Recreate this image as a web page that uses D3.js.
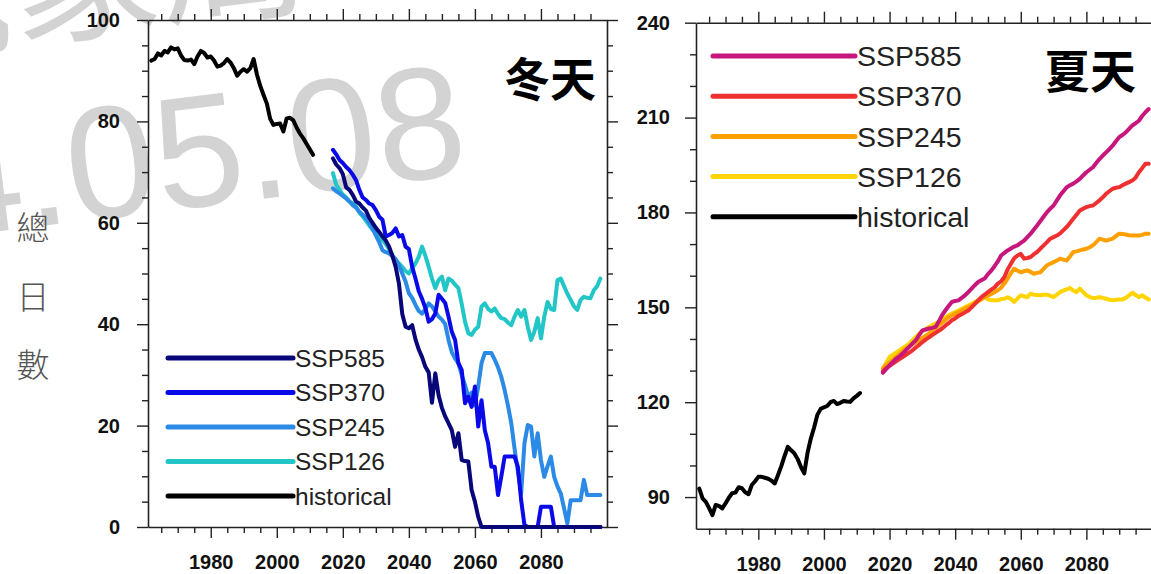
<!DOCTYPE html>
<html lang="zh-Hant">
<head>
    <meta charset="UTF-8">
    <title>冬天 / 夏天 總日數</title>
    <style>
        body { margin: 0; background: #fff; }
        svg { display: block; }
    </style>
</head>
<body>
    <script src="https://d3js.org/d3.v7.min.js"></script>
    <script>
        // Years
        let histYears = d3.range(1962, 2012);
        let winterYears = d3.range(2017, 2099);
        let summerYears = d3.range(2018, 2100);

        // Winter (冬天) series
        let winterHist = [92.0, 92.3, 93.4, 93.0, 93.9, 93.6, 94.6, 94.2, 94.4, 93.0,
            92.1, 92.0, 92.2, 91.3, 92.8, 93.9, 93.5, 92.6, 92.8, 92.0,
            90.8, 91.0, 91.5, 92.3, 91.6, 90.5, 89.0, 89.8, 90.3, 89.8,
            90.5, 92.3, 89.2, 87.0, 85.2, 83.5, 80.5, 79.3, 79.5, 79.6,
            78.0, 80.6, 80.7, 80.2, 78.8, 77.6, 76.7, 75.6, 74.5, 73.4];
        let winter585 = [72.7, 71.5, 70.8, 69.6, 67.0, 66.5, 65.5, 64.2, 63.8, 63.0,
            62.4, 61.0, 60.0, 59.0, 58.2, 57.3, 56.5, 55.3, 53.5, 51.3,
            48.0, 42.0, 39.5, 39.2, 39.8, 37.0, 35.0, 33.5, 31.6, 30.5,
            24.5, 30.3, 26.0, 23.5, 21.8, 20.5, 19.1, 15.8, 18.5, 13.2,
            13.0, 12.9, 7.3, 5.0, 2.0, 0, 0, 0, 0, 0,
            0, 0, 0, 0, 0, 0, 0, 0, 0, 0,
            0, 0, 0, 0, 0, 0, 0, 0, 0, 0,
            0, 0, 0, 0, 0, 0, 0, 0, 0, 0,
            0, 0];
        let winter370 = [74.4, 73.5, 72.4, 71.8, 71.0, 70.4, 69.5, 68.4, 66.5, 65.0,
            64.5, 63.8, 63.5, 62.5, 61.2, 60.6, 57.3, 57.6, 58.0, 58.9,
            57.3, 57.6, 55.3, 54.8, 51.3, 49.0, 46.5, 45.0, 43.2, 40.5,
            41.0, 42.1, 45.8, 45.0, 44.2, 41.5, 38.5, 36.9, 32.3, 31.0,
            24.4, 25.7, 23.7, 27.7, 19.8, 25.0, 19.1, 16.5, 11.9, 11.9,
            6.3, 10.0, 13.9, 13.9, 13.9, 13.9, 11.9, 5.3, 0.4, 0,
            0, 0, 0, 4, 4, 4, 4, 0, 0, 0,
            0, 0, 0, 0, 0, 0, 0, 0, 0, 0,
            0, 0];
        let winter245 = [66.8, 66.2, 65.8, 65.3, 64.8, 64.2, 63.5, 63.0, 62.2, 61.6,
            60.9, 60.0, 58.9, 57.5, 56.2, 54.6, 54.2, 54.0, 53.4, 52.8,
            51.6, 50.0, 48.4, 46.1, 45.2, 43.8, 42.6, 42.1, 43.0, 44.1,
            43.5, 42.5, 41.5, 40.9, 40.0, 36.9, 34.5, 33.2, 32.3, 30.0,
            28.0, 25.7, 26.5, 24.0, 27.7, 32.3, 34.3, 34.3, 34.3, 33.0,
            31.5, 29.6, 27.0, 24.0, 20.5, 15.5, 11.0, 6.6, 16.5, 20.1,
            19.8, 13.9, 18.5, 13.2, 9.9, 12.0, 13.9, 9.9, 8.0, 6.6,
            3.7, 0.7, 5.3, 5.3, 5.3, 5.3, 9.3, 6.3, 6.3, 6.3,
            6.3, 6.3];
        let winter126 = [69.8, 67.5, 66.5, 65.5, 65.0, 64.2, 63.8, 63.2, 62.0, 61.3,
            60.4, 59.5, 58.6, 58.0, 57.3, 56.6, 55.8, 54.8, 53.6, 52.7,
            52.0, 51.3, 50.5, 50.0, 51.0, 52.0, 53.3, 55.3, 53.5, 51.3,
            49.0, 47.1, 48.7, 49.4, 46.7, 49.0, 48.6, 47.8, 47.1, 44.0,
            40.5, 38.2, 37.9, 38.9, 39.5, 43.5, 44.1, 43.0, 42.5, 43.1,
            42.0, 41.2, 41.0, 40.3, 39.8, 41.5, 42.8, 41.5, 42.8, 39.5,
            36.9, 38.5, 41.2, 37.2, 41.5, 44.4, 43.0, 42.8, 48.7, 49.0,
            47.5, 46.0, 44.8, 43.5, 42.8, 44.8, 45.4, 45.2, 45.1, 46.7,
            47.5, 49.0];

        // Summer (夏天) series
        let summerHist = [92.7, 89.6, 88.5, 86.5, 84.3, 87.5, 87.2, 86.4, 88.0, 89.8,
            91.2, 91.4, 93.1, 92.8, 91.5, 90.9, 93.8, 95.0, 96.4, 96.4,
            96.1, 95.8, 95.2, 94.3, 97.0, 99.8, 103.0, 105.9, 104.8, 103.8,
            102.0, 99.5, 97.5, 104.0, 108.5, 112.0, 116.0, 117.9, 118.4, 118.8,
            120.0, 120.4, 119.4, 119.8, 120.4, 120.2, 120.1, 121.2, 122.0, 122.9];
        let summer585 = [129.3, 130.5, 131.7, 132.7, 133.8, 134.5, 135.4, 136.5, 137.5, 138.6,
            139.6, 141.2, 142.7, 143.0, 143.3, 143.5, 143.8, 145.5, 147.5, 149.0,
            150.4, 151.7, 152.0, 152.2, 153.0, 153.8, 154.8, 155.9, 157.0, 158.0,
            158.6, 159.1, 160.5, 161.6, 163.0, 164.5, 166.4, 167.2, 168.0, 168.6,
            169.2, 169.6, 170.4, 171.1, 172.2, 173.3, 174.6, 175.9, 177.3, 178.7,
            180.1, 181.2, 182.2, 183.8, 185.4, 186.7, 188.0, 188.6, 189.1, 189.8,
            190.6, 191.7, 192.7, 193.5, 194.3, 195.6, 196.9, 198.0, 199.0, 200.0,
            201.1, 202.5, 203.8, 204.5, 205.3, 206.4, 207.5, 208.2, 209.0, 210.5,
            211.7, 212.7];
        let summer370 = [129.8, 130.8, 131.5, 132.2, 132.9, 133.6, 134.3, 135.0, 135.7, 136.4,
            137.3, 138.1, 139.0, 139.8, 140.5, 141.2, 141.9, 142.6, 143.3, 144.2,
            145.0, 145.9, 146.5, 147.3, 147.8, 148.4, 149.0, 150.0, 151.1, 152.2,
            153.2, 154.0, 154.8, 155.6, 156.3, 157.5, 158.2, 159.6, 162.0, 163.8,
            165.5, 166.4, 166.9, 165.4, 165.6, 165.9, 166.8, 167.5, 168.6, 169.6,
            170.6, 171.7, 172.2, 172.7, 173.4, 174.4, 175.4, 176.7, 178.0, 179.3,
            180.6, 181.2, 181.7, 182.0, 182.2, 183.0, 183.8, 184.8, 185.9, 186.7,
            187.5, 187.8, 188.0, 188.6, 189.1, 189.6, 190.1, 191.0, 192.7, 194.0,
            195.4, 195.4];
        let summer245 = [130.6, 131.8, 132.6, 133.4, 134.3, 135.2, 136.1, 137.0, 137.7, 138.3,
            138.9, 139.6, 140.3, 141.0, 141.7, 142.6, 143.4, 144.3, 145.1, 146.0,
            146.9, 147.4, 148.0, 148.5, 149.0, 149.6, 150.1, 150.6, 151.2, 151.9,
            152.5, 153.2, 153.7, 154.2, 154.8, 155.4, 156.2, 157.5, 159.1, 160.8,
            162.2, 161.6, 161.1, 161.4, 161.7, 161.2, 160.6, 160.9, 161.1, 162.2,
            163.3, 163.8, 164.3, 164.8, 165.4, 165.1, 164.8, 166.1, 167.5, 167.7,
            168.0, 168.3, 168.5, 169.0, 169.6, 170.6, 171.7, 171.4, 171.1, 171.4,
            171.7, 172.5, 173.3, 173.2, 173.0, 172.8, 172.7, 172.7, 172.7, 172.9,
            173.3, 173.3];
        let summer126 = [130.8, 132.5, 134.3, 135.0, 135.7, 136.4, 137.1, 137.8, 138.5, 139.6,
            140.6, 141.7, 142.4, 143.1, 143.8, 144.3, 144.9, 145.4, 146.1, 146.8,
            147.5, 148.0, 148.5, 149.0, 149.5, 150.1, 150.6, 151.1, 151.7, 152.2,
            152.7, 153.2, 152.5, 152.2, 152.2, 152.2, 152.6, 152.7, 153.2, 152.6,
            151.7, 152.8, 153.8, 153.5, 153.2, 154.3, 154.0, 153.9, 153.8, 154.0,
            154.0, 153.6, 153.2, 154.0, 154.8, 155.3, 155.7, 156.1, 155.3, 154.8,
            155.9, 154.9, 153.8, 153.3, 152.9, 153.0, 153.2, 153.0, 152.7, 152.4,
            152.2, 152.4, 152.5, 152.5, 153.0, 153.8, 154.6, 153.9, 153.2, 153.8,
            153.1, 152.5];

        // Tick values
        let xMajor = [1980, 2000, 2020, 2040, 2060, 2080];
        let xMinor = [1965, 1970, 1975, 1985, 1990, 1995, 2005, 2010, 2015, 2025, 2030, 2035,
            2045, 2050, 2055, 2065, 2070, 2075, 2085, 2090, 2095];
        let winterMajor = [0, 20, 40, 60, 80, 100];
        let winterMinor = [5, 10, 15, 25, 30, 35, 45, 50, 55, 65, 70, 75, 85, 90, 95];
        let summerMajor = [90, 120, 150, 180, 210, 240];
        let summerMinor = [100, 110, 130, 140, 160, 170, 190, 200, 220, 230];

        let scenarios = ['SSP585', 'SSP370', 'SSP245', 'SSP126', 'historical'];
        let winterColors = ['#07077a', '#0a0ae8', '#2a8ae6', '#22c6c6', '#000000'];
        let summerColors = ['#c8177c', '#ee3030', '#ffa000', '#ffd400', '#000000'];

        let W = 1151, H = 574;
        let svg = d3.select('body').append('svg')
            .attr('width', W)
            .attr('height', H);

        svg.append('rect').attr('width', W).attr('height', H).attr('fill', '#fff');

        // Watermark, behind everything
        let wm = svg.append('g')
            .attr('fill', '#d3d3d3')
            .attr('transform', 'rotate(-7,465,172)');
        wm.append('text')
            .attr('x', 335).attr('y', -16)
            .attr('text-anchor', 'end')
            .attr('font-family', 'Noto Sans CJK TC')
            .attr('font-size', 150)
            .text('中央氣象局');
        wm.append('text')
            .attr('x', 470).attr('y', 174)
            .attr('text-anchor', 'end')
            .attr('font-family', 'Liberation Sans, Arial, sans-serif')
            .attr('font-size', 160)
            .text('2024.05.08');

        function drawPanel(opt) {
            let x = d3.scaleLinear().domain([1961, 2100]).range(opt.xRange);
            let y = d3.scaleLinear().domain(opt.yDomain).range(opt.yRange);
            let g = svg.append('g').style('color', '#222');

            // major + minor ticks on all four sides
            let bottom = g.append('g').attr('transform', 'translate(0,' + opt.yRange[0] + ')');
            bottom.call(d3.axisBottom(x).tickValues(xMajor).tickSize(11).tickPadding(17)
                .tickSizeOuter(0).tickFormat(d3.format('d')));
            bottom.append('g').call(d3.axisBottom(x).tickValues(xMinor).tickSize(6)
                .tickSizeOuter(0).tickFormat(''))
                .call(a => a.select('.domain').remove());

            let top = g.append('g').attr('transform', 'translate(0,' + opt.yRange[1] + ')');
            top.call(d3.axisTop(x).tickValues(xMajor).tickSize(11).tickSizeOuter(0).tickFormat(''));
            top.append('g').call(d3.axisTop(x).tickValues(xMinor).tickSize(6)
                .tickSizeOuter(0).tickFormat(''))
                .call(a => a.select('.domain').remove());

            let left = g.append('g').attr('transform', 'translate(' + opt.xRange[0] + ',0)');
            left.call(d3.axisLeft(y).tickValues(opt.yMajor).tickSize(11).tickPadding(opt.yPad)
                .tickSizeOuter(0).tickFormat(d3.format('d')));
            left.append('g').call(d3.axisLeft(y).tickValues(opt.yMinor).tickSize(6)
                .tickSizeOuter(0).tickFormat(''))
                .call(a => a.select('.domain').remove());

            let right = g.append('g').attr('transform', 'translate(' + opt.xRange[1] + ',0)');
            right.call(d3.axisRight(y).tickValues(opt.yMajor).tickSize(11).tickSizeOuter(0).tickFormat(''));
            right.append('g').call(d3.axisRight(y).tickValues(opt.yMinor).tickSize(6)
                .tickSizeOuter(0).tickFormat(''))
                .call(a => a.select('.domain').remove());

            g.selectAll('path.domain').attr('stroke-width', 1.6);
            g.selectAll('.tick line').attr('stroke-width', 1.4);
            g.selectAll('.tick text')
                .attr('font-family', 'Liberation Sans, Arial, sans-serif')
                .attr('font-weight', 'bold')
                .attr('font-size', 20)
                .attr('fill', '#111');

            // data lines: historical first, then SSP126 .. SSP585 on top
            let line = d3.line()
                .x(d => x(d[0]))
                .y(d => y(d[1]));
            let order = [4, 3, 2, 1, 0];
            order.forEach(function(i) {
                let years = i === 4 ? histYears : opt.futureYears;
                let pts = d3.zip(years, opt.series[i]);
                g.append('path')
                    .datum(pts)
                    .attr('d', line)
                    .attr('fill', 'none')
                    .attr('stroke', opt.colors[i])
                    .attr('stroke-width', 4)
                    .attr('stroke-linejoin', 'round')
                    .attr('stroke-linecap', 'round');
            });

            // legend
            let lg = g.append('g');
            scenarios.forEach(function(name, i) {
                let ly = opt.legend.y0 + i * opt.legend.dy;
                lg.append('line')
                    .attr('x1', opt.legend.x1).attr('x2', opt.legend.x2)
                    .attr('y1', ly).attr('y2', ly)
                    .attr('stroke', opt.colors[i])
                    .attr('stroke-width', 5)
                    .attr('stroke-linecap', 'round');
                lg.append('text')
                    .attr('x', opt.legend.x2 + 2)
                    .attr('y', ly)
                    .attr('dy', '0.36em')
                    .attr('font-family', 'Liberation Sans, Arial, sans-serif')
                    .attr('font-size', opt.legend.size)
                    .attr('fill', '#222')
                    .text(name);
            });

            // season title
            g.append('text')
                .attr('x', opt.title.x)
                .attr('y', opt.title.y)
                .attr('text-anchor', 'end')
                .attr('font-family', 'Noto Sans CJK TC')
                .attr('font-weight', 'bold')
                .attr('font-size', 46)
                .attr('fill', '#000')
                .text(opt.title.text);
        }

        drawPanel({
            xRange: [148, 607],
            yDomain: [0, 100],
            yRange: [527, 20],
            yMajor: winterMajor,
            yMinor: winterMinor,
            yPad: 17,
            futureYears: winterYears,
            series: [winter585, winter370, winter245, winter126, winterHist],
            colors: winterColors,
            legend: { x1: 168, x2: 293, y0: 358, dy: 34.5, size: 24.5 },
            title: { text: '冬天', x: 596, y: 96 }
        });

        drawPanel({
            xRange: [696, 1152],
            yDomain: [80, 240],
            yRange: [528.7, 22.7],
            yMajor: summerMajor,
            yMinor: summerMinor,
            yPad: 15,
            futureYears: summerYears,
            series: [summer585, summer370, summer245, summer126, summerHist],
            colors: summerColors,
            legend: { x1: 713, x2: 855, y0: 56, dy: 40.2, size: 28.5 },
            title: { text: '夏天', x: 1136, y: 88 }
        });

        // vertical y label 總日數
        let yLabel = ['總', '日', '數'];
        let yLabelPos = [240, 309, 377];
        yLabel.forEach(function(c, i) {
            svg.append('text')
                .attr('x', 33)
                .attr('y', yLabelPos[i])
                .attr('text-anchor', 'middle')
                .attr('font-family', 'Noto Sans CJK TC')
                .attr('font-weight', 300)
                .attr('font-size', 33)
                .attr('fill', '#555')
                .text(c);
        });
    </script>
</body>
</html>
